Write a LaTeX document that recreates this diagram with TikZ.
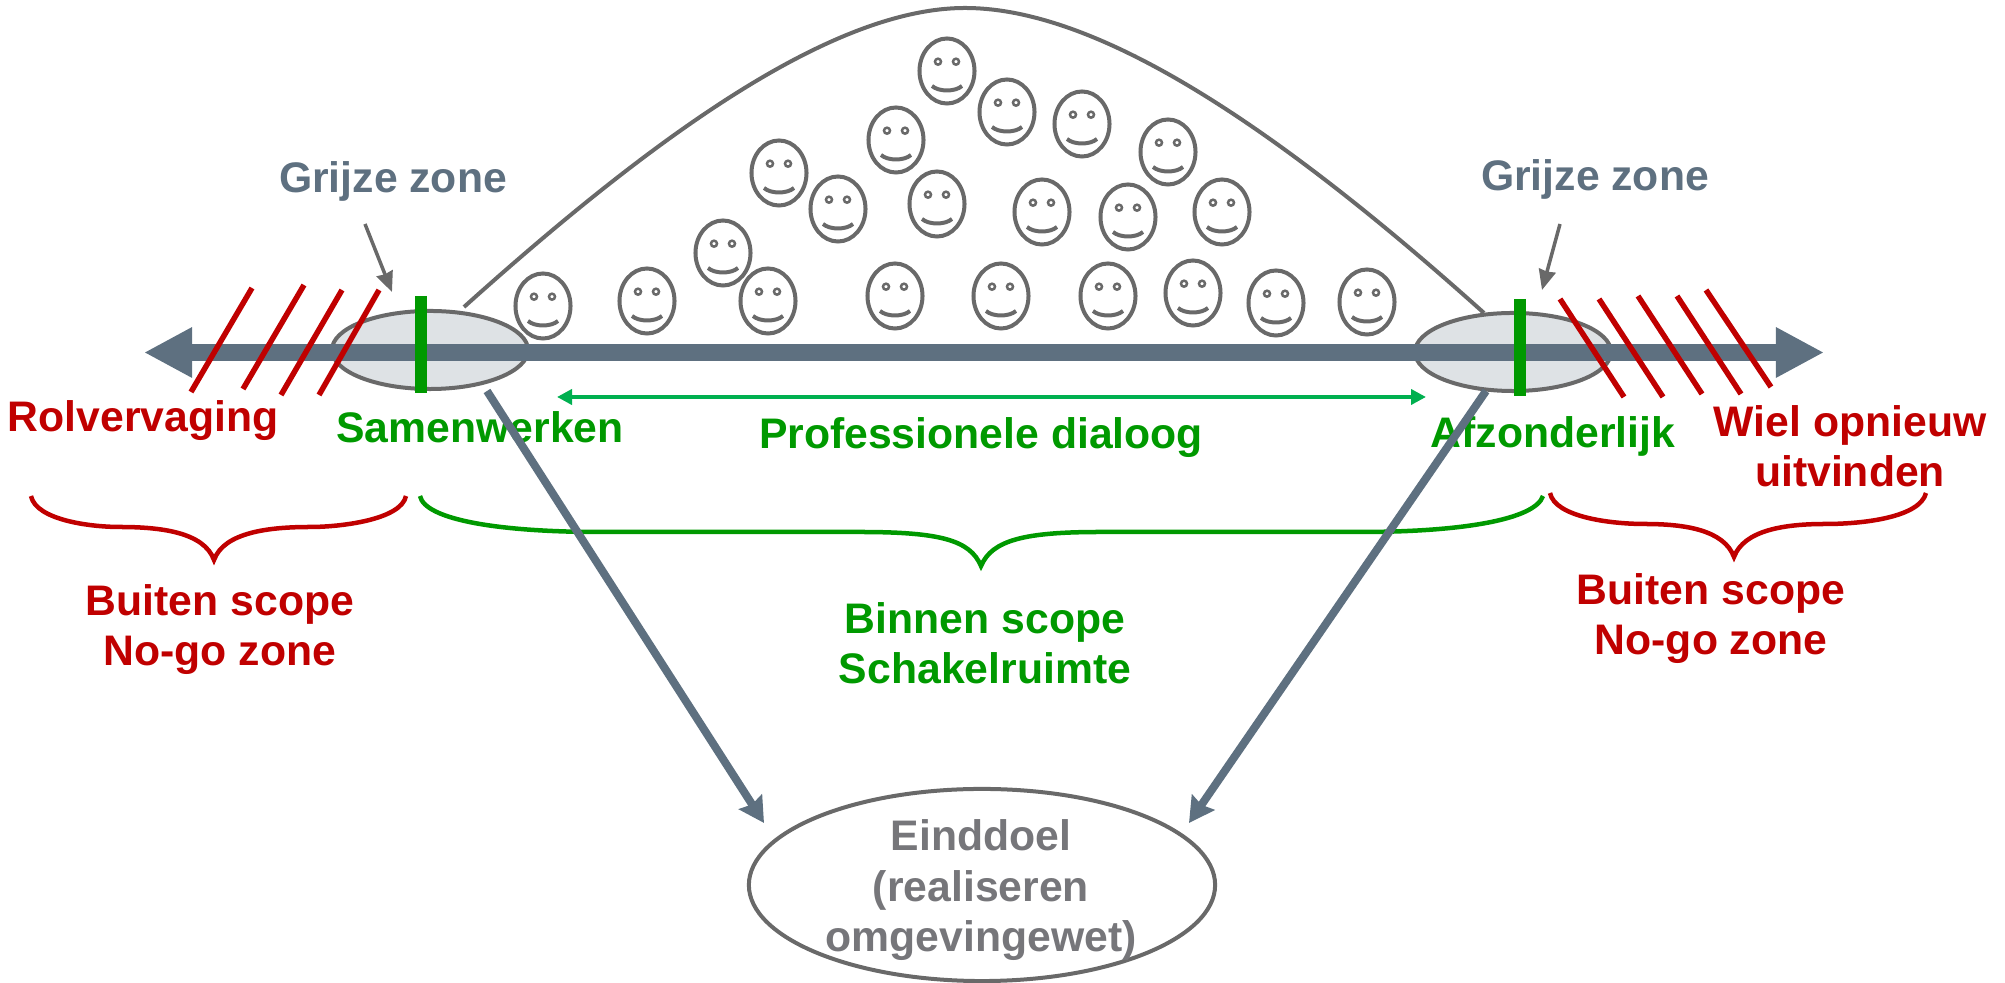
\documentclass[tikz,border=0pt]{standalone}
\usepackage{fontspec}
\setmainfont{Liberation Sans}
\usetikzlibrary{arrows.meta,shapes.geometric}

\definecolor{slategrey}{HTML}{5E7080}
\definecolor{linegrey}{HTML}{696969}
\definecolor{zonefill}{HTML}{DEE2E5}
\definecolor{goalgrey}{HTML}{76767A}
\definecolor{nogored}{HTML}{C00000}
\definecolor{scopegreen}{HTML}{009900}
\definecolor{dialooggreen}{HTML}{00B050}

\tikzset{
  label text/.style={font=\fontsize{12.15}{14.4}\selectfont\bfseries, align=center, anchor=base},
  redbar/.style={draw=nogored, line width=0.055cm},
  greenbar/.style={draw=scopegreen, line width=0.12cm},
  zone/.style={draw=linegrey, fill=zonefill, line width=0.04cm, ellipse, inner sep=0pt, minimum width=1.96cm, minimum height=0.78cm},
  redbrace/.style={draw=nogored, line width=0.045cm},
  greenbrace/.style={draw=scopegreen, line width=0.045cm},
  pointer/.style={draw=linegrey, line width=0.035cm, -{Stealth[length=0.2cm, width=0.17cm, inset=0.01cm]}},
  goalarrow/.style={draw=slategrey, line width=0.08cm, -{Stealth[length=0.25cm, width=0.27cm, inset=0.03cm]}},
  pics/smiley/.style={code={
    \draw[linegrey, line width=0.04cm] (0,0) ellipse (0.275cm and 0.325cm);
    \draw[linegrey, line width=0.025cm] (-9,-9.3) circle (0.03cm);
    \draw[linegrey, line width=0.025cm] (9,-9.3) circle (0.03cm);
    \draw[linegrey, line width=0.04cm] (-15,15) .. controls (-8,21) and (8,21) .. (15,15);
  }}
}

\begin{document}
\begin{tikzpicture}[x=0.01cm, y=-0.01cm]
\useasboundingbox (0,0) rectangle (2005,983);

% Bell curve
\coordinate (bellL) at (464,307);
\coordinate (bellTop) at (965,8);
\coordinate (bellR) at (1484,313);
\draw[linegrey, line width=0.04cm] (bellL) .. controls (650,140) and (830,8) .. (bellTop) .. controls (1100,8) and (1280,130) .. (bellR);

% Smileys
\foreach \fx/\fy in {543/306, 647/301, 723/253, 768/301, 779/173, 838/209, 896/140, 895/296, 937/204, 947/71,
  1001/296, 1007/112, 1042/212, 1082/124, 1108/296, 1128/217, 1168/152, 1193/293, 1222/212, 1276/303, 1367/302}
  \pic at (\fx,\fy) {smiley};

% Zones on the axis
\node[zone] (zoneL) at (430,350) {};
\node[zone] (zoneR) at (1513,352) {};

% Main axis
\coordinate (axisL) at (144,352.5);
\coordinate (axisR) at (1824,352.5);
\draw[slategrey, line width=0.17cm, {Triangle[length=0.48cm, width=0.47cm]}-{Triangle[length=0.48cm, width=0.47cm]}] (axisL) -- (axisR);

% Red hatching left
\foreach \ax/\ay/\bx/\by in {252/288/191/392, 304/285/243/389, 342/290/281/395, 379/290/319/395}
  \draw[redbar] (\ax,\ay) -- (\bx,\by);

% Red hatching right
\foreach \ax/\ay/\bx/\by in {1560/299/1624/397, 1599/299/1663/397, 1638/296/1702/394, 1677/296/1741/394, 1706/290/1771/387}
  \draw[redbar] (\ax,\ay) -- (\bx,\by);

% Green bars
\draw[greenbar] (421,296) -- (421,393);
\draw[greenbar] (1520,299) -- (1520,396);

% Dialogue arrow
\coordinate (dialoogL) at (557,397);
\coordinate (dialoogR) at (1426,397);
\draw[dialooggreen, line width=0.04cm, {Triangle[length=0.15cm, width=0.15cm]}-{Triangle[length=0.15cm, width=0.15cm]}] (dialoogL) -- (dialoogR);

% Grey zone labels
\node[label text, text=slategrey] (grijsL) at (393,193) {Grijze zone};
\node[label text, text=slategrey] (grijsR) at (1595,191) {Grijze zone};
\coordinate (grijsLtip) at (392,292);
\coordinate (grijsRtip) at (1542,290);
\draw[pointer] (365,224) -- (grijsLtip);
\draw[pointer] (1560,224) -- (grijsRtip);

% Axis labels
\node[label text, text=nogored] (rol) at (143,432) {Rolvervaging};
\node[label text, text=scopegreen] (samen) at (480,443) {Samenwerken};
\node[label text, text=scopegreen] (dialoog) at (981,449) {Professionele dialoog};
\node[label text, text=scopegreen] (apart) at (1553,448) {Afzonderlijk};
\node[label text, text=nogored] (wiel) at (1850,487) {Wiel opnieuw\\uitvinden};

% Braces
\draw[redbrace] (31,496) .. controls (36,520) and (90,527) .. (120,527) .. controls (160,527) and (204,532) .. (214,560) .. controls (224,532) and (270,527) .. (310,527) .. controls (340,527) and (401,520) .. (406,496);
\draw[greenbrace] (420,496) .. controls (425,520) and (500,532) .. (600,532) -- (860,532) .. controls (940,532) and (970,540) .. (981,566) .. controls (992,540) and (1025,532) .. (1100,532) -- (1360,532) .. controls (1460,532) and (1535,520) .. (1543,496);
\draw[redbrace] (1550,493) .. controls (1555,517) and (1610,524) .. (1645,524) .. controls (1685,524) and (1724,530) .. (1734,557) .. controls (1744,530) and (1785,524) .. (1825,524) .. controls (1865,524) and (1920,517) .. (1926,493);

% Scope labels
\node[label text, text=nogored] (buitenL) at (220,666) {Buiten scope\\No-go zone};
\node[label text, text=scopegreen] (binnen) at (985,684) {Binnen scope\\Schakelruimte};
\node[label text, text=nogored] (buitenR) at (1711,655) {Buiten scope\\No-go zone};

% End goal
\node[draw=linegrey, line width=0.04cm, ellipse, inner sep=0pt, minimum width=4.66cm, minimum height=1.92cm] (doel) at (982,885) {};
\node[label text, text=goalgrey] (doeltext) at (981,952) {Einddoel\\(realiseren\\omgevingewet)};
\coordinate (doelL) at (764,823);
\coordinate (doelR) at (1189,823);
\draw[goalarrow] (487,391) -- (doelL);
\draw[goalarrow] (1486,391) -- (doelR);

\end{tikzpicture}
\end{document}
